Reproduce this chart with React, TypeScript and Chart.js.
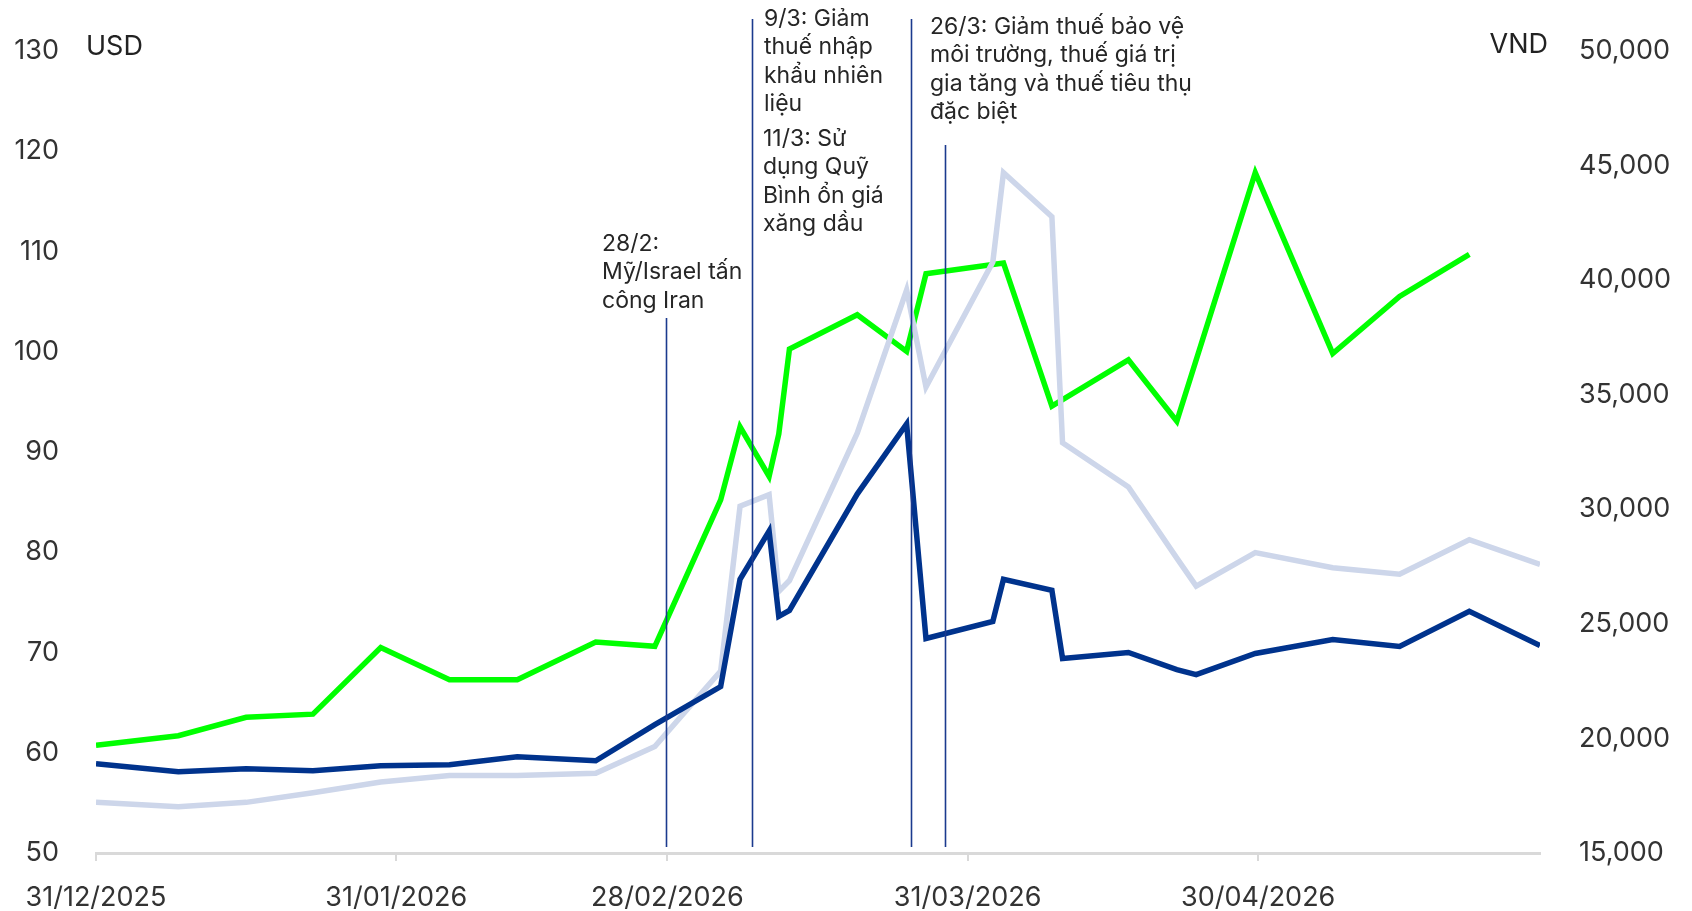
import { useEffect, useRef } from "react";
import { Chart, registerables } from "chart.js";

Chart.register(...registerables);

// Days elapsed since 31/12/2025
const dayOffsets = [0, 8.5, 15.5, 22.4, 29.4, 36.5, 43.5, 51.6, 57.7, 64.5, 66.5, 69.5, 70.5, 71.6, 78.6, 83.7, 85.7, 92.6, 93.7, 98.7, 99.8, 106.6, 111.6, 113.6, 119.7, 127.7, 134.6, 141.8, 149.1];

// USD (left axis)
const crudeUsd = [58.9, 58.1, 58.4, 58.2, 58.7, 58.8, 59.6, 59.2, 62.8, 66.6, 77.3, 82.1, 73.6, 74.2, 85.8, 92.8, 71.4, 73.1, 77.3, 76.2, 69.4, 70.0, 68.3, 67.8, 69.9, 71.3, 70.6, 74.1, 70.7];

// VND (right axis)
const gasolineVnd = [19700, 20120, 20920, 21060, 23970, 22560, 22560, 24210, 24020, 30410, 33600, 31440, 33280, 36990, 38490, 36890, 40280, null, 40750, 34500, null, 36520, 33840, null, 44690, 36800, 39290, 41120, null];
const dieselVnd = [17210, 17020, 17210, 17630, 18100, 18380, 18380, 18480, 19650, 22940, 30130, 30640, 26420, 26890, 33320, 39570, 35340, 40790, 44690, 42770, 32900, 30970, 27870, 26650, 28110, 27450, 27170, 28670, 27590];

const xTickDays = [0, 31, 59, 90, 120];
const xTickLabels = ["31/12/2025", "31/01/2026", "28/02/2026", "31/03/2026", "30/04/2026"];

const eventDays = [58.9, 67.7, 84.2, 87.7];
const eventNotes = [
  ["28/2:", "Mỹ/Israel tấn", "công Iran"],
  ["9/3: Giảm", "thuế nhập", "khẩu nhiên", "liệu"],
  ["11/3: Sử", "dụng Quỹ", "Bình ổn giá", "xăng dầu"],
  ["26/3: Giảm thuế bảo vệ", "môi trường, thuế giá trị", "gia tăng và thuế tiêu thụ", "đặc biệt"],
];

const FONT = "Inter, 'Noto Sans', sans-serif";

const notesPlugin = {
  id: "notes",
  afterDatasetsDraw(chart: any) {
    const ctx = chart.ctx;
    const xs = chart.scales.x;
    const lineTops = [318, 19, 19, 145];
    const bottom = chart.chartArea.bottom - 6;
    ctx.save();
    ctx.strokeStyle = "#1b3a8e";
    ctx.lineWidth = 1.6;
    eventDays.forEach((d, i) => {
      const px = Math.round(xs.getPixelForValue(d)) + 0.5;
      ctx.beginPath();
      ctx.moveTo(px, lineTops[i]);
      ctx.lineTo(px, bottom);
      ctx.stroke();
    });
    ctx.font = `23px ${FONT}`;
    ctx.fillStyle = "#262626";
    ctx.textBaseline = "middle";
    ctx.textAlign = "left";
    const blockPos = [
      [602, 244],
      [764, 19],
      [763, 139],
      [930, 27],
    ];
    const lh = 28.4;
    eventNotes.forEach((lines, i) => {
      lines.forEach((t, j) => ctx.fillText(t, blockPos[i][0], blockPos[i][1] + j * lh));
    });
    ctx.font = `27px ${FONT}`;
    ctx.fillStyle = "#222";
    ctx.fillText("USD", 86, 47);
    ctx.textAlign = "right";
    ctx.fillText("VND", 1548, 45);
    ctx.restore();
  },
};

export default function App() {
  const ref = useRef<HTMLCanvasElement | null>(null);
  useEffect(() => {
    if (!ref.current) return;
    const chart = new Chart(ref.current, {
      type: "line",
      data: {
        labels: dayOffsets,
        datasets: [
          {
            label: "Giá dầu (USD)",
            data: dayOffsets.map((d, i) => ({ x: d, y: crudeUsd[i] })),
            borderColor: "#00338d",
            yAxisID: "y",
          },
          {
            label: "Diesel (VND)",
            data: dayOffsets.map((d, i) => ({ x: d, y: dieselVnd[i] })),
            borderColor: "#cdd6ea",
            yAxisID: "y1",
          },
          {
            label: "Xăng (VND)",
            data: dayOffsets.map((d, i) => ({ x: d, y: gasolineVnd[i] })),
            borderColor: "#00ff00",
            yAxisID: "y1",
          },
        ] as any,
      },
      options: {
        animation: false,
        responsive: true,
        maintainAspectRatio: false,
        spanGaps: true,
        layout: { padding: { top: 51, left: 0, right: 0, bottom: 0 } },
        plugins: { legend: { display: false }, tooltip: { enabled: false } },
        elements: {
          point: { radius: 0 },
          line: { tension: 0, borderWidth: 5.5, fill: false },
        },
        scales: {
          x: {
            type: "linear",
            min: 0,
            max: 149.1,
            afterBuildTicks: (s: any) => {
              s.ticks = xTickDays.map((v) => ({ value: v }));
            },
            afterFit: (s: any) => {
              s.height = 58;
            },
            ticks: {
              autoSkip: false,
              maxRotation: 0,
              padding: 21,
              color: "#333",
              font: { family: FONT, size: 27 },
              callback: (_v: any, i: number) => xTickLabels[i],
            },
            grid: {
              display: true,
              drawOnChartArea: false,
              drawTicks: true,
              tickLength: 8,
              color: "#d9d9d9",
              lineWidth: 2,
            },
            border: { display: true, color: "#d9d9d9", width: 3 },
          },
          y: {
            position: "left",
            min: 50,
            max: 130,
            afterFit: (s: any) => {
              s.width = 96;
              s.paddingTop = 0;
              s.paddingBottom = 0;
            },
            ticks: {
              stepSize: 10,
              padding: 37,
              color: "#333",
              font: { family: FONT, size: 27 },
            },
            grid: { display: false, drawTicks: false },
            border: { display: false },
          },
          y1: {
            position: "right",
            min: 15000,
            max: 50000,
            afterFit: (s: any) => {
              s.width = 152;
              s.paddingTop = 0;
              s.paddingBottom = 0;
            },
            ticks: {
              stepSize: 5000,
              padding: 39,
              color: "#333",
              font: { family: FONT, size: 27 },
              callback: (v: any) => Number(v).toLocaleString("en-US"),
            },
            grid: { display: false, drawTicks: false },
            border: { display: false },
          },
        },
      } as any,
      plugins: [notesPlugin],
    });
    return () => chart.destroy();
  }, []);
  return (
    <div style={{ position: "fixed", left: 0, top: 0, width: 1692, height: 911, background: "#fff" }}>
      <canvas ref={ref} />
    </div>
  );
}
